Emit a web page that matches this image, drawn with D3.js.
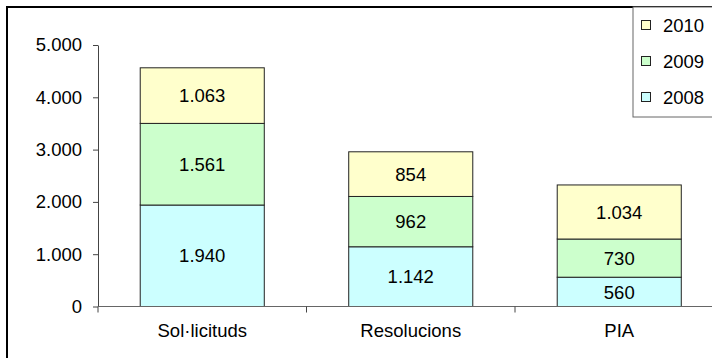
<!DOCTYPE html>
<html><head><meta charset="utf-8">
<script src="https://cdn.jsdelivr.net/npm/d3@7"></script>
<style>body{margin:0;background:#fff}svg{display:block;font-family:"Liberation Sans",Arial,sans-serif}</style>
</head><body><svg id="c" width="712" height="358"></svg>
<script>
const categories = ["Sol·licituds", "Resolucions", "PIA"];
const seriesNames = ["2008", "2009", "2010"];
const values2008 = [1940, 1142, 560];
const values2009 = [1561, 962, 730];
const values2010 = [1063, 854, 1034];
const yTicks = [0, 1000, 2000, 3000, 4000, 5000];
const colors = ["#CCFFFF", "#CCFFCC", "#FFFFCC"];

(function () {
const FS = 18.5;
const seriesValues = [values2008, values2009, values2010];
const rows = categories.map((c, i) => {
  const r = {cat: c};
  seriesNames.forEach((s, j) => r[s] = seriesValues[j][i]);
  return r;
});
const stacked = d3.stack().keys(seriesNames)(rows);

const loc = d3.formatLocale({decimal: ",", thousands: ".", grouping: [3], currency: ["", "€"]});
const fmt = loc.format(",d");

const svg = d3.select("#c");
const pL = 98, pR = 723.5, pT = 45, pB = 306.5;

const x = d3.scaleBand().domain(categories).range([pL, pR]).paddingInner(0.405).paddingOuter(0.2025);
const y = d3.scaleLinear().domain([0, 5000]).range([pB, pT]);

// outer frame
svg.append("rect").attr("x", 7).attr("y", 7).attr("width", 740).attr("height", 400)
  .attr("fill", "none").attr("stroke", "#000").attr("stroke-width", 2);

// bars
const g = svg.append("g");
stacked.forEach((layer, j) => {
  g.selectAll(null).data(layer).enter().append("rect")
    .attr("x", d => x(d.data.cat))
    .attr("y", d => y(d[1]))
    .attr("width", x.bandwidth())
    .attr("height", d => y(d[0]) - y(d[1]))
    .attr("fill", colors[j]).attr("stroke", "#222").attr("stroke-width", 1);
  g.selectAll(null).data(layer).enter().append("text")
    .attr("x", d => x(d.data.cat) + x.bandwidth() / 2)
    .attr("y", d => (y(d[0]) + y(d[1])) / 2)
    .attr("dy", "0.36em").attr("text-anchor", "middle")
    .attr("font-size", FS).attr("fill", "#000")
    .text(d => fmt(d[1] - d[0]));
});

// y axis
const yAxis = svg.append("g").attr("transform", `translate(${pL},0)`)
  .call(d3.axisLeft(y).tickValues(yTicks).tickSize(5).tickSizeOuter(0).tickPadding(11).tickFormat(fmt));
yAxis.select(".domain").attr("stroke", "#444");
yAxis.selectAll(".tick line").attr("stroke", "#444");
yAxis.selectAll("text").attr("font-size", FS).attr("fill", "#000").attr("font-family", "Liberation Sans, Arial, sans-serif");

// x axis
const xa = svg.append("g").attr("transform", `translate(0,${pB})`);
xa.append("line").attr("x1", pL).attr("x2", 712).attr("y1", 0).attr("y2", 0).attr("stroke", "#666").attr("stroke-width", 1.2);
const step = x.step();
[0, 1, 2, 3].forEach(i => {
  const bx = pL + i * step;
  xa.append("line").attr("x1", bx).attr("x2", bx).attr("y1", 0).attr("y2", 6).attr("stroke", "#444");
});
xa.selectAll(null).data(categories).enter().append("text")
  .attr("x", d => x(d) + x.bandwidth() / 2).attr("y", 24)
  .attr("dy", "0.36em").attr("text-anchor", "middle")
  .attr("font-size", FS).attr("fill", "#000").text(d => d);

// legend
const lg = svg.append("g");
lg.append("rect").attr("x", 633).attr("y", 7).attr("width", 100).attr("height", 110)
  .attr("fill", "#fff").attr("stroke", "#666").attr("stroke-width", 1);
[2, 1, 0].forEach((j, k) => {
  const cy = 25 + k * 36;
  lg.append("rect").attr("x", 641.5).attr("y", cy - 4.5).attr("width", 9).attr("height", 9)
    .attr("fill", colors[j]).attr("stroke", "#222").attr("stroke-width", 1);
  lg.append("text").attr("x", 663).attr("y", cy).attr("dy", "0.36em")
    .attr("font-size", FS).attr("fill", "#000").text(seriesNames[j]);
});
})();
</script>
</body></html>
